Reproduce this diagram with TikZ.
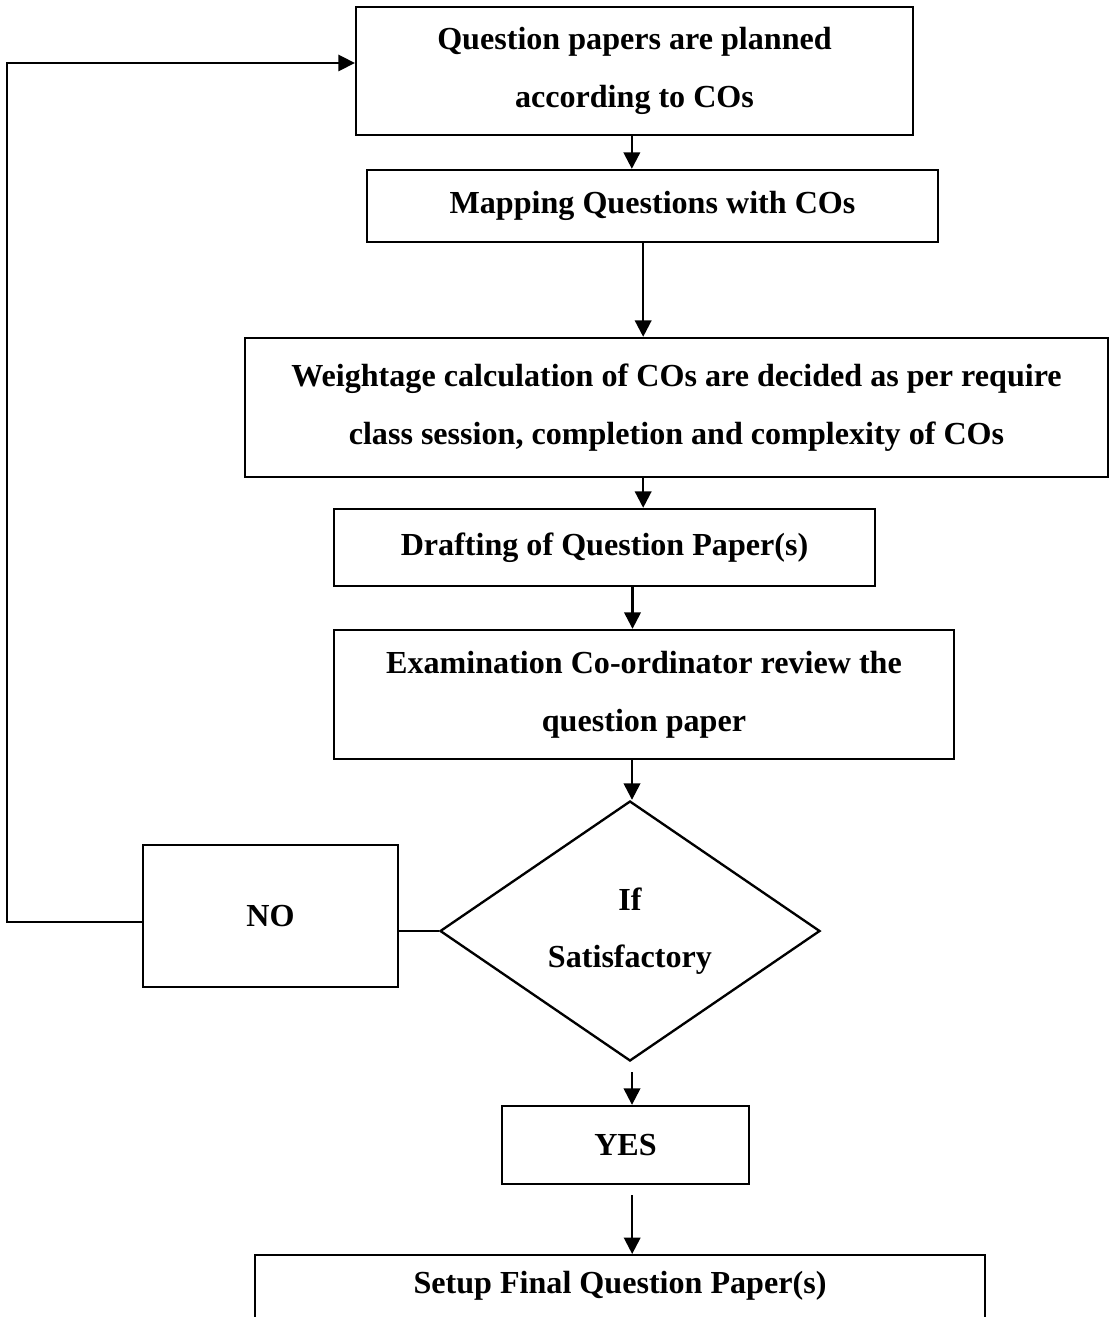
\documentclass[tikz,border=0pt]{standalone}
\usepackage{fontspec}
\setmainfont{Liberation Serif}
\usetikzlibrary{arrows.meta,positioning,shapes.geometric}

\begin{document}
\begin{tikzpicture}[
  procbox/.style={draw, line width=1pt, align=center,
               font=\bfseries\fontsize{13.7}{24.6}\selectfont},
  decide/.style={draw, diamond, line width=1pt, align=center,
               minimum width=5.7cm, minimum height=3.9cm, inner sep=0pt,
               font=\bfseries\fontsize{13.7}{24.6}\selectfont},
  arr/.style={-{Triangle[length=7pt, width=7pt]}, line width=1pt},
  thinline/.style={line width=0.7pt}
]
\useasboundingbox (0,0) rectangle (16.65,-19.755);
\node[procbox, minimum width=8.355cm, minimum height=1.92cm] (plan) at (9.5175,-1.065)
  {Question papers are planned\\according to COs};
\node[procbox, minimum width=8.565cm, minimum height=1.08cm] (map) at (9.7875,-3.09)
  {Mapping Questions with COs};
\node[procbox, minimum width=12.945cm, minimum height=2.085cm] (weight) at (10.1475,-6.1125)
  {Weightage calculation of COs are decided as per require\\class session, completion and complexity of COs};
\node[procbox, minimum width=8.115cm, minimum height=1.155cm] (draft) at (9.0675,-8.2125)
  {Drafting of Question Paper(s)};
\node[procbox, minimum width=9.3cm, minimum height=1.935cm] (review) at (9.66,-10.4175)
  {Examination Co-ordinator review the\\question paper};
\node[decide] (cond) at (9.45,-13.965) {If\\Satisfactory};
\node[procbox, minimum width=3.825cm, minimum height=2.13cm] (no) at (4.0575,-13.74) {NO};
\node[procbox, minimum width=3.705cm, minimum height=1.17cm] (yes) at (9.3825,-17.175) {YES};
\node[procbox, minimum width=10.95cm, minimum height=1.935cm, anchor=north] (final) at (9.3,-18.81)
  {Setup Final Question Paper(s)\\\strut};

\draw[arr] ([xshift=-0.04cm]plan.south) -- ([xshift=-0.04cm]plan.south |- map.north);
\draw[arr] ([xshift=-0.14cm]map.south) -- ([xshift=-0.14cm]map.south |- weight.north);
\draw[arr] ([xshift=-0.5cm]weight.south) -- ([xshift=-0.5cm]weight.south |- draft.north);
\draw[arr] ([xshift=0.42cm]draft.south) -- ([xshift=0.42cm]draft.south |- review.north);
\draw[arr] ([xshift=-0.18cm]review.south) -- ([xshift=-0.18cm]review.south |- cond.north);
\draw[thinline] (cond.west) -- (cond.west -| no.east);
\draw[arr, shorten <=0.15cm] ([xshift=0.03cm]cond.south) -- ([xshift=0.03cm]cond.south |- yes.north);
\draw[arr, shorten <=0.15cm] ([xshift=0.1cm]yes.south) -- ([xshift=0.1cm]yes.south |- final.north);
% back to the start when not satisfactory
\draw[thinline, -{Triangle[length=7pt, width=7pt]}] ([yshift=-0.09cm]no.west) -- ++(-2.025,0)
  |- ([yshift=0.12cm]plan.west);
\end{tikzpicture}
\end{document}
